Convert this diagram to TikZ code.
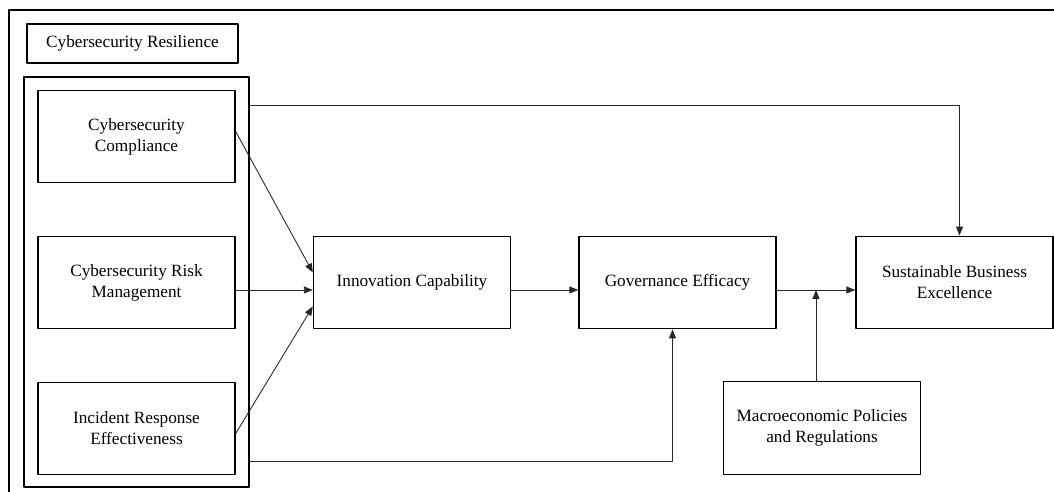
\documentclass[tikz,border=0pt]{standalone}
\usepackage{fontspec}
\setmainfont{Liberation Serif}
\usetikzlibrary{arrows.meta}
\begin{document}
\begin{tikzpicture}[x=0.02cm, y=-0.02cm, font=\fontsize{9.8}{12}\selectfont, line join=round,
  box/.style={draw, line width=0.8pt, minimum width=3.94cm, minimum height=1.85cm, inner sep=0pt, align=center},
  arr/.style={line width=0.5pt, draw=black!85, -{Triangle[length=1.8mm, width=1.4mm]}}]
\useasboundingbox (0,0) rectangle (1054,492);
% frame, cut by the page edge
\draw[line width=1.1pt] (9,10) rectangle (1080,520);
\node[box, minimum width=4.22cm, minimum height=0.78cm] (res) at (132.5,43.5) {Cybersecurity Resilience};
\node[draw, line width=0.8pt, minimum width=4.5cm, minimum height=8.2cm] (grp) at (136.5,282) {};
% resilience dimensions
\node[box] (comp) at (136.5,136.5) {Cybersecurity\\Compliance};
\node[box] (risk) at (136.5,282.5) {Cybersecurity Risk\\Management};
\node[box] (inc) at (136.5,428.5) {Incident Response\\Effectiveness};
% main chain
\node[box] (inno) at (412,282.5) {Innovation Capability};
\node[box] (gov) at (677.5,282.5) {Governance Efficacy};
\node[box] (sbe) at (954.5,282.5) {Sustainable Business\\Excellence};
\node[box] (macro) at (822,428) {Macroeconomic Policies\\and Regulations};
\coordinate (topy) at (0,105);
\coordinate (boty) at (0,461);
\draw[arr] ([yshift=1mm]comp.east) -- ([yshift=2mm]inno.west);
\draw[arr] ([yshift=-1.5mm]risk.east) -- ([yshift=-1.5mm]inno.west);
\draw[arr] ([yshift=-1mm]inc.east) -- ([yshift=-4.8mm]inno.west);
\draw[arr] ([yshift=-1.5mm]inno.east) -- ([yshift=-1.5mm]gov.west);
\draw[arr] ([yshift=-1.5mm]gov.east) -- coordinate[pos=0.5] (mid) ([yshift=-1.5mm]sbe.west);
\draw[arr] (macro.north -| mid) -- (mid);
\draw[arr] (grp.east |- topy) -| ([xshift=1mm]sbe.north);
\draw[arr] (grp.east |- boty) -| ([xshift=-1mm]gov.south);
\end{tikzpicture}
\end{document}
